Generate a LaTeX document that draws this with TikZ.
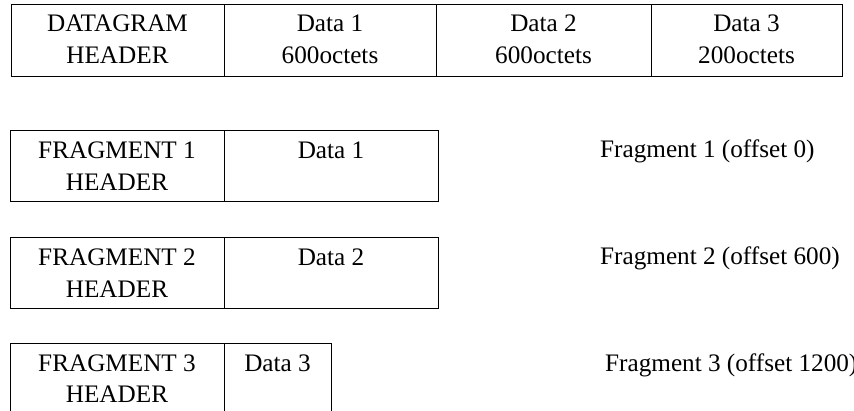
\documentclass[tikz,border=0pt]{standalone}
\usepackage{fontspec}
\setmainfont{Liberation Serif}
\begin{document}
\begin{tikzpicture}[x=1pt,y=-1pt,
  cell/.style={draw=black,line width=1.2pt,inner sep=0pt,anchor=north west},
  txt/.style={inner sep=0pt,anchor=base,font=\fontsize{25.2}{30}\selectfont},
  lbl/.style={inner sep=0pt,anchor=base west,font=\fontsize{25.2}{30}\selectfont}]
\useasboundingbox (0,0) rectangle (854,410);
\clip (0,0) rectangle (854,410);
% datagram row
\node[cell,minimum width=213pt,minimum height=72pt] (dh) at (11,4) {};
\node[cell,minimum width=212pt,minimum height=72pt] (d1) at (224,4) {};
\node[cell,minimum width=215pt,minimum height=72pt] (d2) at (436,4) {};
\node[cell,minimum width=191pt,minimum height=72pt] (d3) at (651,4) {};
\node[txt] (dht1) at (117.5,31) {DATAGRAM};
\node[txt] (dht2) at (117.5,63.5) {HEADER};
\node[txt] (d1t1) at (330,31) {Data 1};
\node[txt] (d1t2) at (330,63.5) {600octets};
\node[txt] (d2t1) at (543.5,31) {Data 2};
\node[txt] (d2t2) at (543.5,63.5) {600octets};
\node[txt] (d3t1) at (746.5,31) {Data 3};
\node[txt] (d3t2) at (746.5,63.5) {200octets};
% fragment 1
\node[cell,minimum width=214pt,minimum height=71pt] (f1h) at (10,130) {};
\node[cell,minimum width=214pt,minimum height=71pt] (f1d) at (224,130) {};
\node[txt] (f1t1) at (117,158) {FRAGMENT 1};
\node[txt] (f1t2) at (117,190.5) {HEADER};
\node[txt] (f1dt) at (331,158) {Data 1};
\node[lbl] (f1l) at (600,157) {Fragment 1 (offset 0)};
% fragment 2
\node[cell,minimum width=214pt,minimum height=71pt] (f2h) at (10,237) {};
\node[cell,minimum width=214pt,minimum height=71pt] (f2d) at (224,237) {};
\node[txt] (f2t1) at (117,265) {FRAGMENT 2};
\node[txt] (f2t2) at (117,297.5) {HEADER};
\node[txt] (f2dt) at (331,265) {Data 2};
\node[lbl] (f2l) at (600,264) {Fragment 2 (offset 600)};
% fragment 3
\node[cell,minimum width=214pt,minimum height=90pt] (f3h) at (10,343) {};
\node[cell,minimum width=107pt,minimum height=90pt] (f3d) at (224,343) {};
\node[txt] (f3t1) at (117,371) {FRAGMENT 3};
\node[txt] (f3t2) at (117,402) {HEADER};
\node[txt] (f3dt) at (277.5,371) {Data 3};
\node[lbl] (f3l) at (605,371) {Fragment 3 (offset 1200)};
\end{tikzpicture}
\end{document}
